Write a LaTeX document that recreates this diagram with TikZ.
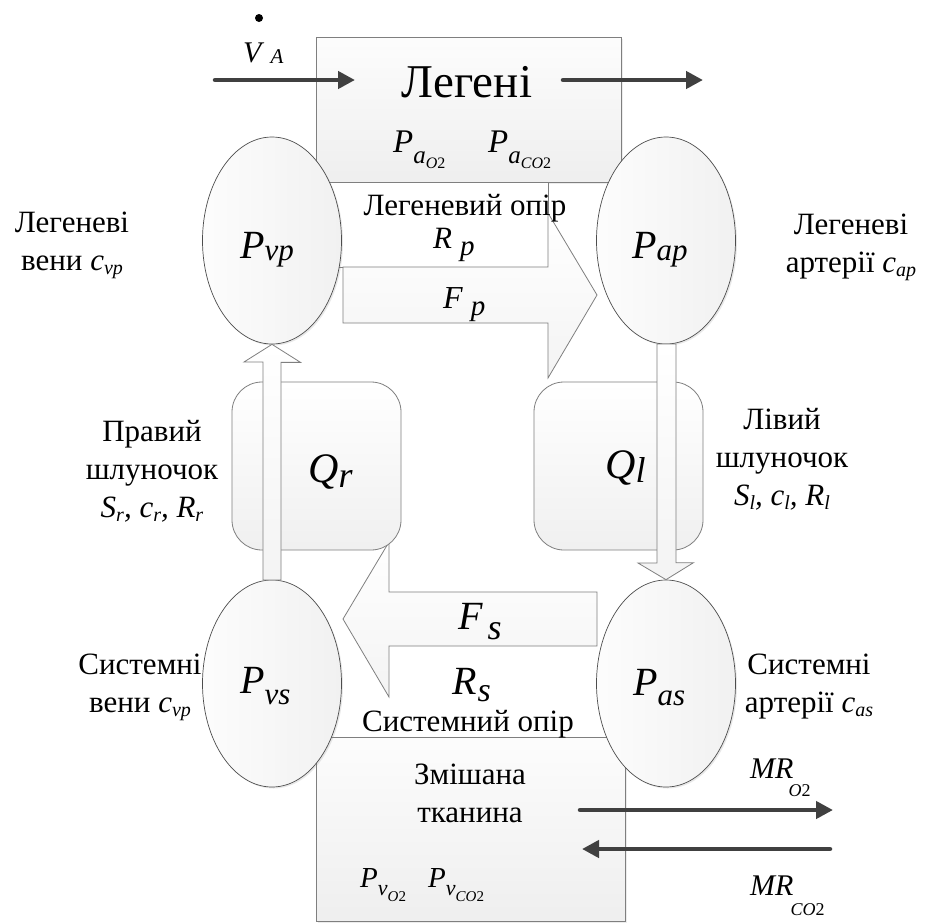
\documentclass[tikz,border=0pt]{standalone}
\usepackage{fontspec}
\setmainfont{Liberation Serif}
\usetikzlibrary{shapes.geometric,shadows,arrows.meta}
\definecolor{boxedge}{HTML}{7F7F7F}
\definecolor{elledge}{HTML}{4D4D4D}
\definecolor{darkarrow}{HTML}{404040}
\newcommand{\sbx}[3]{\raisebox{-#1pt}{\fontsize{#2}{#2}\selectfont #3}}
\newcommand{\lblfont}{\fontsize{31}{38}\selectfont}
\tikzset{
  chamber/.style={ellipse, draw=elledge, line width=0.7pt, minimum width=139pt, minimum height=207pt, inner sep=0pt,
    left color=gray!2, right color=gray!11,
    drop shadow={shadow xshift=1.5pt, shadow yshift=-1.5pt, opacity=0.18}},
  organ/.style={rectangle, draw=boxedge, line width=0.8pt, inner sep=0pt, top color=gray!2, bottom color=gray!13,
    drop shadow={shadow xshift=1.5pt, shadow yshift=-1.5pt, opacity=0.15}},
  heartbox/.style={draw=boxedge, line width=0.8pt, rounded corners=30pt, top color=white, bottom color=gray!12},
  flowarrow/.style={draw=boxedge, line width=0.8pt, top color=white, bottom color=gray!9},
  gasarrow/.style={draw=darkarrow, line width=4.5pt, line cap=round, -{Triangle[length=17pt,width=17pt]}},
  lbl/.style={inner sep=0pt, font=\lblfont, align=center, anchor=base},
  sym/.style={inner sep=0pt, anchor=base west, font=\itshape},
}
\begin{document}
\begin{tikzpicture}[x=1pt,y=-1pt]
\useasboundingbox (0,0) rectangle (927,922);
\fill[white] (0,0) rectangle (927,922);

% organ boxes
\node[organ, minimum width=305pt, minimum height=145pt] (lungs) at (468.5,109.5) {};
\node[organ, minimum width=309pt, minimum height=184pt] (tissue) at (470.5,829) {};

% pulmonary resistance box
\draw[boxedge, line width=0.8pt, fill=white] (300,182) rectangle (548,267);

% block arrows
\path[flowarrow] (343,267) -- (548,267) -- (548,213) -- (597,295) -- (548,378) -- (548,323) -- (343,323) -- cycle;
\path[flowarrow] (597,592) -- (389,592) -- (389,542) -- (343,619) -- (389,697) -- (389,646) -- (597,646) -- cycle;

% ventricles
\path[heartbox] (232,382) rectangle (401,550);
\path[heartbox] (534,382) rectangle (703,550);

% chambers (ellipses)
\node[chamber] (vp) at (272,240.5) {};
\node[chamber] (ap) at (666,240.5) {};
\node[chamber] (vs) at (272,683.5) {};
\node[chamber] (as) at (666,683.5) {};

% vertical block arrows between chambers
\path[flowarrow] (vp.south) -- ++(28.5,18) -- ++(-19.5,0) -- (281,580) -- (263,580) -- ++(0,-218) -- ++(-19,0) -- cycle;
\path[flowarrow] (as.north) -- ++(27.5,-17) -- ++(-17.5,0) -- (676,344) -- (657,344) -- ++(0,219) -- ++(-19,0) -- cycle;

% gas arrows
\coordinate (vin0) at (215,80);
\coordinate (vin1) at (355,80);
\coordinate (vout0) at (563,80);
\coordinate (vout1) at (703,80);
\coordinate (mo0) at (580,810);
\coordinate (mo1) at (833,810);
\coordinate (mc0) at (830,849);
\coordinate (mc1) at (582,849);
\draw[gasarrow] (vin0) -- (vin1);
\draw[gasarrow] (vout0) -- (vout1);
\draw[gasarrow] (mo0) -- (mo1);
\draw[gasarrow] (mc0) -- (mc1);

% texts
\node[lbl] (lungsT) at (467,97) {\fontsize{47}{47}\selectfont Легені};
\node[sym] (paO) at (393,152) {\fontsize{33}{33}\selectfont P\sbx{11}{25}{a\sbx{5}{16}{O{\upshape 2}}}};
\node[sym] (paC) at (488,152) {\fontsize{33}{33}\selectfont P\sbx{11}{25}{a\sbx{5}{16}{CO{\upshape 2}}}};
\fill (259,18) circle (4pt);
\node[sym] (vA) at (243,62) {\fontsize{30}{30}\selectfont V\hspace{9pt}\sbx{1}{21}{A}};

\node[sym] (pvpT) at (240,258) {\fontsize{40}{40}\selectfont P\sbx{2}{31}{vp}};
\node[sym] (papT) at (632,258) {\fontsize{40}{40}\selectfont P\sbx{2}{31}{ap}};
\node[sym] (pvsT) at (240,693) {\fontsize{40}{40}\selectfont P\sbx{11}{31}{vs}};
\node[sym] (pasT) at (633,695) {\fontsize{40}{40}\selectfont P\sbx{10}{31}{as}};
\node[sym] (qrT) at (308,482) {\fontsize{42}{42}\selectfont Q\sbx{5}{36}{r}};
\node[sym] (qlT) at (605,478) {\fontsize{42}{42}\selectfont Q\sbx{4}{36}{l}};

\node[lbl] (rpL) at (465,215) {Легеневий опір};
\node[sym] (rpT) at (433,248) {\fontsize{31}{31}\selectfont R\hspace{8pt}\sbx{7}{29}{p}};
\node[sym] (fpT) at (443,308) {\fontsize{32}{32}\selectfont F\hspace{8pt}\sbx{7}{29}{p}};
\node[sym] (fsT) at (458,629) {\fontsize{40}{40}\selectfont F\hspace{5pt}\sbx{10}{36}{s}};
\node[sym] (rsT) at (452,694) {\fontsize{40}{40}\selectfont R\hspace{1pt}\sbx{7}{34}{s}};
\node[lbl] (rsL) at (468,731) {Системний опір};

\node[lbl] (tisT) at (470,822) {\fontsize{31}{41}\selectfont Змішана\\тканина};
\node[sym] (pvO) at (360,887) {\fontsize{29}{29}\selectfont P\sbx{8}{22}{v\sbx{6}{15}{O{\upshape 2}}}};
\node[sym] (pvC) at (428,887) {\fontsize{29}{29}\selectfont P\sbx{8}{22}{v\sbx{6}{15}{CO{\upshape 2}}}};
\node[sym] (moT) at (750,778) {\fontsize{30}{30}\selectfont MR\hspace{-5pt}\sbx{18}{18}{O{\upshape 2}}};
\node[sym] (mcT) at (750,895) {\fontsize{30}{30}\selectfont MR\hspace{-3pt}\sbx{20}{18}{CO{\upshape 2}}};

\node[lbl] (lvL) at (72,270) {Легеневі\\вени \textit{c}\sbx{4}{20}{\itshape vp}};
\node[lbl] (laL) at (851,272) {Легеневі\\артерії \textit{c}\sbx{4}{20}{\itshape ap}};
\node[lbl] (rvL) at (152,517) {Правий\\шлуночок\\\textit{S}\sbx{4}{20}{\itshape r}\textit{, c}\sbx{4}{20}{\itshape r}\textit{, R}\sbx{4}{20}{\itshape r}};
\node[lbl] (lvR) at (782,505) {Лівий\\шлуночок\\\textit{S}\sbx{4}{20}{\itshape l}\textit{, c}\sbx{4}{20}{\itshape l}\textit{, R}\sbx{4}{20}{\itshape l}};
\node[lbl] (svL) at (140,712) {Системні\\вени \textit{c}\sbx{4}{20}{\itshape vp}};
\node[lbl] (saL) at (809,712) {Системні\\артерії \textit{c}\sbx{4}{20}{\itshape as}};
\end{tikzpicture}
\end{document}
